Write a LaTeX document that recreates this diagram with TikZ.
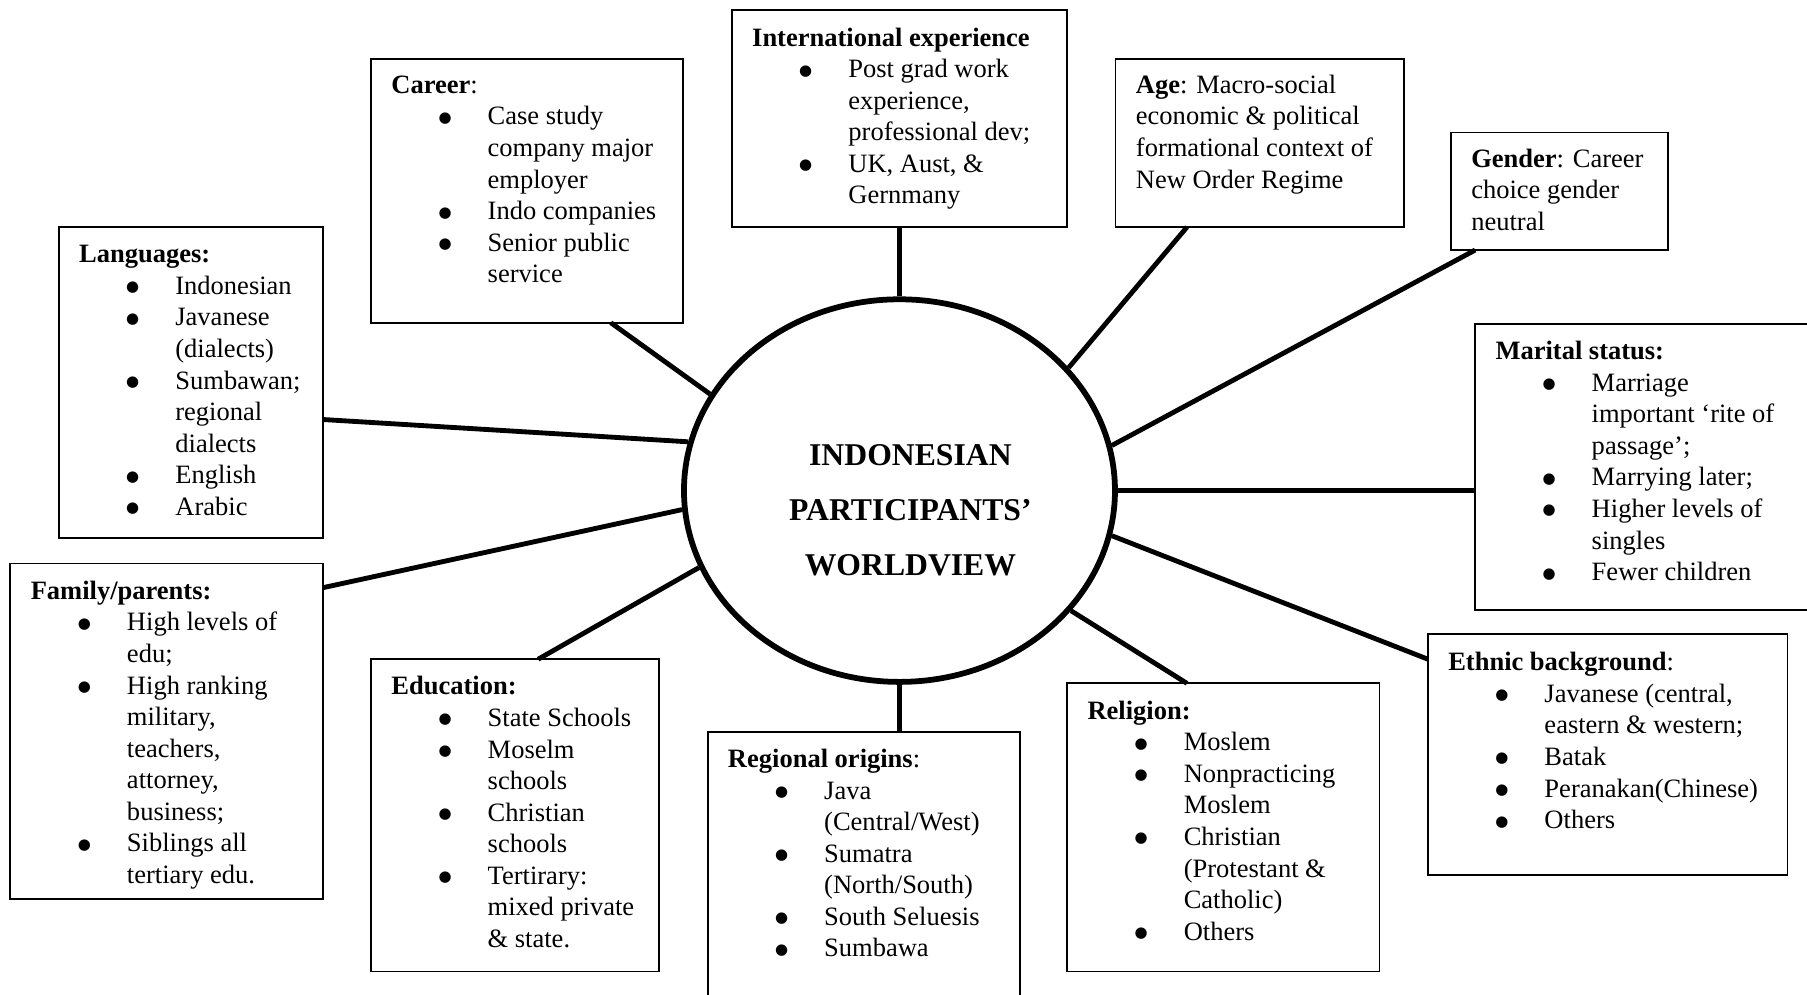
\documentclass[tikz,border=0pt]{standalone}
\usepackage{fontspec}
\setmainfont{Liberation Serif}
\newfontfamily\dejavu{DejaVu Sans}
\usetikzlibrary{calc,shapes.geometric}
\newcommand\hd[1]{\hbox{\hspace*{17.5pt}#1}}
\newcommand\cl[1]{\hbox{\hspace*{101pt}#1}}
\newcommand\bigdot{\raisebox{2.2pt}{\dejavu\fontsize{13}{13}\selectfont ●}}
\newcommand\bl[1]{\hbox{\hspace*{64pt}\makebox[0pt][c]{\bigdot}\hspace*{37pt}#1}}
\newcommand\ctr[1]{\hbox to 320pt{\hfil#1\hfil}}
\begin{document}
\begin{tikzpicture}[x=1pt,y=-1pt,
  box/.style={draw, line width=1.6pt, rectangle, inner sep=0pt, outer sep=0pt, anchor=north west},
  txt/.style={inner sep=0pt, anchor=base west, font=\fontsize{23}{27.4}\selectfont},
  link/.style={line width=4.2pt}]
\useasboundingbox (0,0) rectangle (1568,863);
\clip (0,0) rectangle (1568,863);
% boxes
\node[box, minimum width=229pt, minimum height=270pt] (lang) at (51,197) {};
\node[box, minimum width=271pt, minimum height=229pt] (career) at (322,51) {};
\node[box, minimum width=291pt, minimum height=188pt] (intl) at (635,9) {};
\node[box, minimum width=250pt, minimum height=146pt] (age) at (968,51) {};
\node[box, minimum width=188pt, minimum height=102pt] (gender) at (1259,115) {};
\node[box, minimum width=330pt, minimum height=248pt] (marital) at (1280,281) {};
\node[box, minimum width=312pt, minimum height=209pt] (ethnic) at (1239,550) {};
\node[box, minimum width=271pt, minimum height=250pt] (religion) at (926,593) {};
\node[box, minimum width=271pt, minimum height=300pt] (regional) at (614,635) {};
\node[box, minimum width=250pt, minimum height=271pt] (education) at (322,572) {};
\node[box, minimum width=271pt, minimum height=291pt] (family) at (9,489) {};
% centre
\node[draw, ellipse, line width=5pt, minimum width=374pt, minimum height=332pt, inner sep=0pt] (c) at (780.5,425.7) {};
\node[inner sep=0pt, anchor=base, font=\fontsize{27.5}{47.5}\selectfont\bfseries] (title) at (790,404)
  {\vtop{\ctr{INDONESIAN}\ctr{PARTICIPANTS’}\ctr{WORLDVIEW}}};
% texts
\node[txt] (langT) at ($(lang.north west)+(0,31)$) {\vtop{%
  \hd{\textbf{Languages:}}\bl{Indonesian}\bl{Javanese}\cl{(dialects)}%
  \bl{Sumbawan;}\cl{regional}\cl{dialects}\bl{English}\bl{Arabic}}};
\node[txt] (careerT) at ($(career.north west)+(0,30)$) {\vtop{%
  \hd{\textbf{Career}:}\bl{Case study}\cl{company major}\cl{employer}%
  \bl{Indo companies}\bl{Senior public}\cl{service}}};
\node[txt] (intlT) at ($(intl.north west)+(0,31)$) {\vtop{%
  \hd{\textbf{International experience}}\bl{Post grad work}\cl{experience,}%
  \cl{professional dev;}\bl{UK, Aust, \&}\cl{Gernmany}}};
\node[txt] (ageT) at ($(age.north west)+(0,30)$) {\vtop{%
  \hd{\textbf{Age}: Macro-social}\hd{economic \& political}\hd{formational context of}\hd{New Order Regime}}};
\node[txt] (genderT) at ($(gender.north west)+(0,30)$) {\vtop{%
  \hd{\textbf{Gender}: Career}\hd{choice gender}\hd{neutral}}};
\node[txt] (maritalT) at ($(marital.north west)+(0,31)$) {\vtop{%
  \hd{\textbf{Marital status:}}\bl{Marriage}\cl{important ‘rite of}\cl{passage’;}%
  \bl{Marrying later;}\bl{Higher levels of}\cl{singles}\bl{Fewer children}}};
\node[txt] (ethnicT) at ($(ethnic.north west)+(0,32)$) {\vtop{%
  \hd{\textbf{Ethnic background}:}\bl{Javanese (central,}\cl{eastern \& western;}%
  \bl{Batak}\bl{Peranakan(Chinese)}\bl{Others}}};
\node[txt] (religionT) at ($(religion.north west)+(0,31)$) {\vtop{%
  \hd{\textbf{Religion:}}\bl{Moslem}\bl{Nonpracticing}\cl{Moslem}%
  \bl{Christian}\cl{(Protestant \&}\cl{Catholic)}\bl{Others}}};
\node[txt] (regionalT) at ($(regional.north west)+(0,31)$) {\vtop{%
  \hd{\textbf{Regional origins}:}\bl{Java}\cl{(Central/West)}\bl{Sumatra}%
  \cl{(North/South)}\bl{South Seluesis}\bl{Sumbawa}}};
\node[txt] (educationT) at ($(education.north west)+(0,31)$) {\vtop{%
  \hd{\textbf{Education:}}\bl{State Schools}\bl{Moselm}\cl{schools}%
  \bl{Christian}\cl{schools}\bl{Tertirary:}\cl{mixed private}\cl{\& state.}}};
\node[txt] (familyT) at ($(family.north west)+(0,31)$) {\vtop{%
  \hd{\textbf{Family/parents:}}\bl{High levels of}\cl{edu;}\bl{High ranking}%
  \cl{military,}\cl{teachers,}\cl{attorney,}\cl{business;}\bl{Siblings all}\cl{tertiary edu.}}};
% connectors
\draw[link] ($(career.south west)+(208,0)$) -- (c.153.6);
\draw[link] (intl.south) -- (c.north);
\draw[link] ($(age.south west)+(62,0)$) -- (c.36);
\draw[link] ($(gender.south west)+(21,0)$) -- (c.12.4);
\draw[link] (c.east) -- (c.east -| marital.west);
\draw[link] (c.-12.4) -- ($(ethnic.north west)+(0,22)$);
\draw[link] (c.-35.2) -- ($(religion.north west)+(104,0)$);
\draw[link] (c.south) -- (c.south |- regional.north);
\draw[link] (c.201) -- ($(education.north west)+(145,0)$);
\draw[link] (c.185.9) -- ($(family.north east)+(0,21)$);
\draw[link] (c.167.5) -- ($(lang.north east)+(0,167)$);
\end{tikzpicture}
\end{document}
